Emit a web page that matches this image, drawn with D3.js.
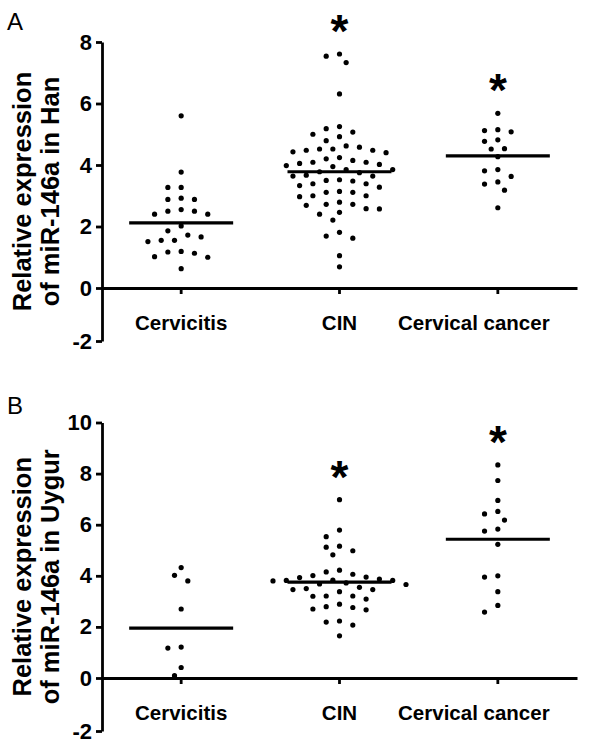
<!DOCTYPE html>
<html>
<head>
<meta charset="utf-8">
<script src="https://cdn.jsdelivr.net/npm/d3@7"></script>
<style>
  body { margin: 0; background: #fff; }
  svg { display: block; }
  .axis path, .axis line { stroke: #000; stroke-width: 2.8px; }
  .axis text { font-family: Arial, "Liberation Sans", sans-serif; font-weight: bold; fill: #000; }
</style>
</head>
<body>
<svg id="chart" width="600" height="747"></svg>
<script>
"use strict";

// categories on the x axis
const categories = ["Cervicitis", "CIN", "Cervical cancer"];

// Panel A - Han, relative expression of miR-146a
const hanCervicitis = [5.60, 3.77, 3.27, 3.27, 2.88, 2.88, 2.92, 2.55, 2.50, 2.40, 2.40, 2.50, 2.02,
  1.55, 1.72, 1.66, 1.86, 1.51, 1.55, 1.19, 1.00, 1.13, 1.17, 1.02, 0.63];
const hanCIN = [7.61, 7.54, 7.33, 6.31, 5.25, 5.07, 5.18, 4.92, 5.00, 4.79, 4.52, 4.48, 4.62, 4.58,
  4.43, 4.40, 4.48, 4.52, 4.15, 4.24, 4.09, 4.09, 4.20, 4.02, 3.95, 3.98, 4.05, 3.85, 3.85, 3.75,
  3.64, 3.64, 3.67, 3.52, 3.48, 3.39, 3.33, 3.39, 3.50, 3.28, 3.11, 3.14, 3.00, 2.97, 3.00, 3.11,
  2.57, 2.72, 2.72, 2.79, 2.58, 2.69, 2.46, 2.40, 2.21, 1.69, 1.62, 1.81, 1.05, 0.69, 3.78];
const hanCancer = [5.68, 5.08, 4.77, 4.82, 4.53, 4.27, 3.81, 3.63, 3.38, 3.18, 2.61,
  5.12, 5.15, 4.52, 3.85, 3.45];
const hanMeans = [2.12, 3.78, 4.30];
const hanTicks = [-2, 0, 2, 4, 6, 8];

// Panel B - Uygur
const uygurCervicitis = [4.02, 3.80, 4.32, 2.70, 1.21, 1.17, 0.41, 0.09];
const uygurCIN = [6.98, 5.79, 5.53, 5.16, 4.98, 5.12, 4.82, 4.15, 4.01, 3.93, 3.95, 4.06, 4.22,
  3.66, 3.83, 3.80, 3.68, 3.82, 3.82, 3.87, 3.50, 3.46, 3.38, 3.46, 3.55, 3.72, 3.21, 3.09, 3.20,
  3.21, 2.76, 2.67, 2.79, 2.89, 2.70, 2.19, 2.23, 2.07, 1.65];
const uygurCancer = [8.34, 7.73, 6.95, 6.52, 6.42, 6.18, 5.75, 5.83, 5.23, 3.95, 4.00, 3.38, 2.84, 2.58];
const uygurMeans = [1.95, 3.75, 5.43];
const uygurTicks = [-2, 0, 2, 4, 6, 8, 10];

// which groups get a significance star
const starred = [false, true, true];

const svg = d3.select("#chart");
const font = 'Arial, "Liberation Sans", sans-serif';

// x is the same for both panels
const x = d3.scaleBand().domain(categories).range([102, 577]).padding(0);

// simple beeswarm on a half-column grid, like the prism dot plots
function swarm(values, cx, y) {
  const slot = 6.65, minDist = 10;
  const placed = [];
  const sorted = values.slice().sort((a, b) => b - a);
  sorted.forEach(v => {
    const py = y(v);
    for (let k = 0; k < 40; k++) {
      const off = (k % 2 === 0 ? 1 : -1) * Math.ceil(k / 2);
      const px = cx + off * slot;
      const hit = placed.some(p => Math.hypot(p.x - px, p.y - py) < minDist);
      if (!hit) { placed.push({x: px, y: py}); break; }
    }
  });
  return placed;
}

function drawPanel(opt) {
  const y = d3.scaleLinear().domain(opt.domain).range(opt.range);
  const g = svg.append("g");

  // panel letter
  g.append("text").attr("x", 7).attr("y", opt.letterY)
    .style("font-family", font).style("font-size", "24px").text(opt.letter);

  // y axis title, two lines
  const cy = (opt.range[0] + opt.range[2]) / 2;
  const title = g.append("text")
    .attr("transform", `translate(0,${cy}) rotate(-90)`)
    .attr("text-anchor", "middle")
    .style("font-family", font).style("font-weight", "bold").style("font-size", "25.5px");
  title.append("tspan").attr("x", 0).attr("y", 31).text("Relative expression");
  title.append("tspan").attr("x", 0).attr("y", 59).text(opt.titleLine2);

  g.append("g").attr("class", "axis")
    .attr("transform", "translate(102,0)")
    .call(d3.axisLeft(y).tickValues(opt.ticks).tickFormat(d => String(d))
      .tickSize(6).tickSizeOuter(0).tickPadding(4))
    .call(a => a.selectAll("text").style("font-size", "22px"));

  g.append("g").attr("class", "axis")
    .attr("transform", `translate(0,${y(0)})`)
    .call(d3.axisBottom(x).tickSize(6).tickSizeOuter(0).tickPadding(21))
    .call(a => a.selectAll("text").style("font-size", "20.5px")
      .attr("x", d => d === "Cervical cancer" ? -24 : 0));

  opt.groups.forEach((vals, i) => {
    const cx = x(categories[i]) + x.bandwidth() / 2;
    const pts = swarm(vals, cx, y);
    g.selectAll(null).data(pts).enter().append("circle")
      .attr("cx", d => d.x).attr("cy", d => d.y).attr("r", 2.6).attr("fill", "#000");

    g.append("line")
      .attr("x1", cx - 52).attr("x2", cx + 52)
      .attr("y1", y(opt.means[i])).attr("y2", y(opt.means[i]))
      .attr("stroke", "#000").attr("stroke-width", 3.2);

    if (starred[i]) {
      const top = y(d3.max(vals)) - 32;
      g.append("text").attr("x", cx).attr("y", top + 25)
        .attr("text-anchor", "middle")
        .style("font-family", font).style("font-weight", "bold").style("font-size", "46px")
        .text("*");
    }
  });
}

drawPanel({
  letter: "A", letterY: 30, titleLine2: "of miR-146a in Han",
  domain: [-2, 0, 8], range: [341, 288, 42], ticks: hanTicks,
  groups: [hanCervicitis, hanCIN, hanCancer], means: hanMeans
});

drawPanel({
  letter: "B", letterY: 414, titleLine2: "of miR-146a in Uygur",
  domain: [-2, 0, 10], range: [731, 678, 422.5], ticks: uygurTicks,
  groups: [uygurCervicitis, uygurCIN, uygurCancer], means: uygurMeans
});
</script>
</body>
</html>
